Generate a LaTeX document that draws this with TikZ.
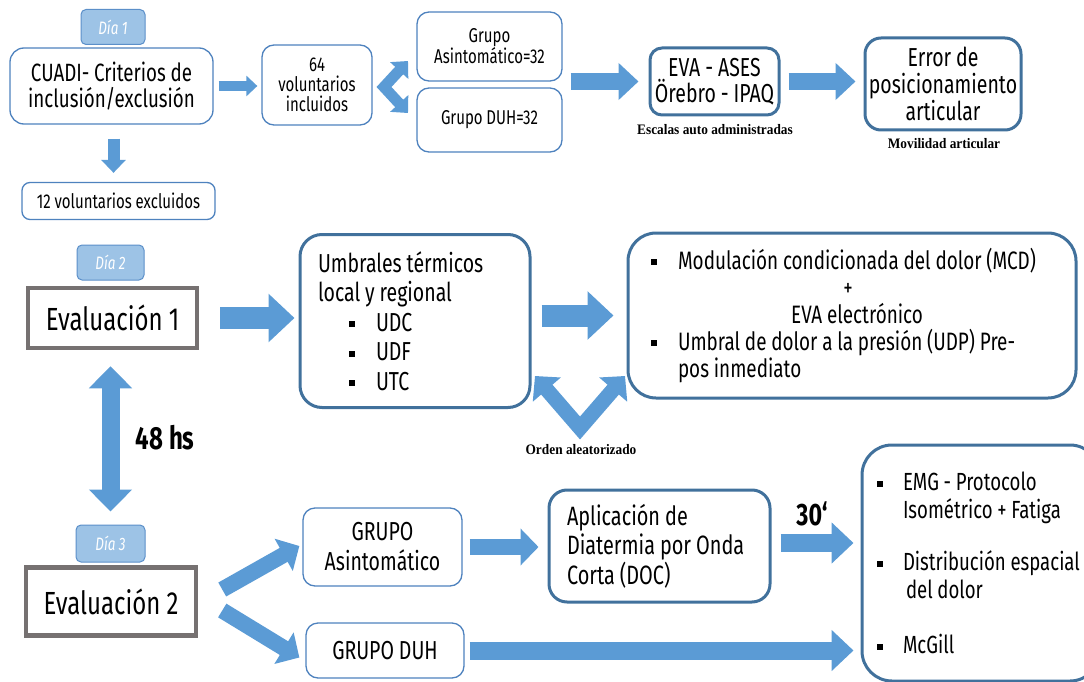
\documentclass[tikz,border=0pt]{standalone}
\usepackage{fontspec}
\setmainfont{Fira Sans}[FakeStretch=0.75]
\newfontfamily\serifb{Liberation Serif}[FakeStretch=0.92]
\usetikzlibrary{arrows.meta,calc}
\definecolor{thinb}{HTML}{4E82BE}
\definecolor{thickb}{HTML}{41719C}
\definecolor{arrblue}{HTML}{5B9BD5}
\definecolor{tabf}{HTML}{9DC3E6}
\definecolor{tabe}{HTML}{5B8FC9}
\definecolor{evgray}{HTML}{767171}
\newcommand{\fs}[2]{\fontsize{#1}{#2}\selectfont\spaceskip=0.19em plus 0.05em\relax}
\newcommand{\sk}{\spaceskip=0.19em plus 0.05em\relax}
\newcommand{\bul}[1]{\makebox[#1][l]{\raisebox{0.16em}{\rule{6pt}{6pt}}}}
\tikzset{
  box/.style={draw=thinb, line width=1.3pt, rounded corners=12pt, align=center, inner sep=0pt, fill=white},
  tbox/.style={draw=thickb, line width=3pt, rounded corners=14pt, align=center, inner sep=0pt, fill=white},
  ebox/.style={draw=evgray, line width=4.5pt, inner sep=0pt, fill=white, font=\fs{32}{36}},
  daytab/.style={draw=tabe, fill=tabf, line width=1pt, rounded corners=5pt, inner sep=0pt, text=white, font=\fs{18}{20}\itshape},
  lab/.style={font=\serifb\bfseries\fontsize{14.5}{16}\selectfont, inner sep=0pt},
  arrS/.style={draw=arrblue, line width=10pt, -{Triangle[length=11pt,width=20pt]}},
  arrD/.style={draw=arrblue, line width=12pt, -{Triangle[length=13pt,width=24pt]}},
  arrM/.style={draw=arrblue, line width=17pt, -{Triangle[length=20pt,width=36pt]}},
  arrL/.style={draw=arrblue, line width=22pt, -{Triangle[length=26pt,width=47pt]}},
  arrG/.style={draw=arrblue, line width=16pt, -{Triangle[length=18pt,width=36pt]}},
  arrH/.style={draw=arrblue, line width=18pt, -{Triangle[length=22pt,width=40pt]}},
}
\begin{document}
\begin{tikzpicture}[x=1pt,y=-1pt]
\useasboundingbox (0,0) rectangle (1084,682);
% ---- Day 1 ----
\node[daytab, minimum width=64pt, minimum height=35pt] (d1) at (113,27) {\sk Día 1};
\node[box, rounded corners=14pt, minimum width=203pt, minimum height=76pt, font=\fs{25}{26}] (cuadi) at (111.5,86) {\sk CUADI- Criterios de\\inclusión/exclusión};
\node[box, minimum width=110pt, minimum height=80pt, font=\fs{20}{20}] (vol) at (317,85) {64\\voluntarios\\incluidos};
\node[box, rounded corners=8pt, minimum width=193pt, minimum height=37pt, font=\fs{20}{22}] (excl) at (118.5,201) {\sk 12 voluntarios excluidos};
\node[box, minimum width=145pt, minimum height=69pt, font=\fs{20}{21}] (gA) at (489.5,46.5) {Grupo\\Asintomático=32};
\node[box, minimum width=145pt, minimum height=64pt, font=\fs{20}{21}] (gD) at (489.5,120) {\sk Grupo DUH=32};
\node[tbox, rounded corners=12pt, minimum width=129pt, minimum height=67pt, font=\fs{26}{26}] (eva) at (714.5,81.5) {\sk EVA - ASES\\Örebro - IPAQ};
\node[tbox, rounded corners=16pt, minimum width=156pt, minimum height=92pt, font=\fs{26}{27}] (err) at (943,84) {\sk Error de\\posicionamiento\\articular};
\node[lab] (esc) at (715,130) {Escalas auto administradas};
\node[lab] (mov) at (944,144) {Movilidad articular};
% ---- Day 2 ----
\node[daytab, minimum width=67pt, minimum height=35pt] (d2) at (110.5,262.5) {\sk Día 2};
\node[ebox, minimum width=169pt, minimum height=60pt] (ev1) at (112.5,318) {\sk Evaluación 1};
\node[tbox, rounded corners=22pt, minimum width=230pt, minimum height=173pt, text width=194pt, align=flush left, font=\fs{26}{29.5}] (umb) at (415,321)
  {\sk Umbrales térmicos\\local y regional\\\hspace*{31pt}\bul{27pt}UDC\\\hspace*{31pt}\bul{27pt}UDF\\\hspace*{31pt}\bul{27pt}UTC};
\node[tbox, rounded corners=28pt, minimum width=448pt, minimum height=165pt, text width=402pt, align=flush left, font=\fs{25.2}{27}] (mcd) at (852,315.5)
  {\sk\bul{27pt}Modulación condicionada del dolor (MCD)\\\hspace*{27pt}\makebox[340pt]{+}\\\hspace*{27pt}\makebox[358pt]{EVA electrónico}\\\bul{27pt}Umbral de dolor a la presión (UDP) Pre-\\\hspace*{27pt}pos inmediato};
\node[lab] (ord) at (581,450) {Orden aleatorizado};
\node[font=\fs{32}{34}\bfseries, inner sep=0pt] (hs) at (165,438) {\sk 48 hs};
% ---- Day 3 ----
\node[daytab, minimum width=69pt, minimum height=37pt] (d3) at (110.5,543.5) {\sk Día 3};
\node[ebox, minimum width=170pt, minimum height=68pt] (ev2) at (111,601.5) {\sk Evaluación 2};
\node[box, minimum width=159pt, minimum height=78pt, font=\fs{26}{30}] (ga3) at (382.5,547) {GRUPO\\Asintomático};
\node[box, minimum width=158pt, minimum height=55pt, font=\fs{26}{30}] (gd3) at (385,650.5) {\sk GRUPO DUH};
\node[tbox, rounded corners=18pt, minimum width=221pt, minimum height=112pt, text width=185pt, align=flush left, font=\fs{26.5}{29.5}] (apl) at (659.5,546)
  {\sk Aplicación de\\Diatermia por Onda\\Corta (DOC)};
\node[font=\fs{31}{33}\bfseries, inner sep=0pt] (t30) at (812,514) {30`};
\node[tbox, rounded corners=30pt, minimum width=238pt, minimum height=236pt, text width=208pt, align=flush left, font=\fs{24.8}{28}] (res) at (981,563)
  {\sk\bul{26pt}EMG - Protocolo\\\hspace*{26pt}Isométrico + Fatiga\\[24pt]\bul{26pt}Distribución espacial\\\hspace*{29pt}del dolor\\[27pt]\bul{26pt}McGill\\[-6pt]};
% ---- connectors ----
\draw[arrS, shorten <=5pt, shorten >=4pt] (cuadi.east) -- (cuadi.east -| vol.west);
\draw[arrD, shorten <=14pt, shorten >=9pt] ([xshift=2pt]cuadi.south) -- ([xshift=2pt]cuadi.south |- excl.north);
\coordinate (c1v) at (384,87);
\coordinate (c1a) at (408,61);
\coordinate (c1b) at (408,113);
\draw[draw=arrblue, line width=11pt, line join=miter, {Triangle[length=13pt,width=24pt]}-{Triangle[length=13pt,width=24pt]}] (c1a) -- (c1v) -- (c1b);
\draw[arrM, shorten <=8pt, shorten >=10pt] (gA.east |- eva.west) -- (eva.west);
\draw[arrM, shorten <=8pt, shorten >=8pt] (eva.east) -- (eva.east -| err.west);
\draw[arrL, shorten <=21pt, shorten >=4pt] (ev1.east) -- (ev1.east -| umb.west);
\draw[arrL, shorten <=10pt, shorten >=13pt] (umb.east |- mcd.west) -- (mcd.west);
\coordinate (c2v) at (580,428);
\coordinate (c2a) at (535,376);
\coordinate (c2b) at (625,376);
\draw[draw=arrblue, line width=15pt, line join=miter, {Triangle[length=18pt,width=36pt]}-{Triangle[length=18pt,width=36pt]}] (c2a) -- (c2v) -- (c2b);
\draw[draw=arrblue, line width=18pt, {Triangle[length=22pt,width=42pt]}-{Triangle[length=22pt,width=42pt]}, shorten <=16pt, shorten >=13pt] (ev1.south -| d3.north) -- (d3.north);
\draw[arrG] ($(ev2.east)+(24,-12)$) -- ($(ga3.west)+(-3,-1)$);
\draw[arrG] ($(ev2.east)+(24,9)$) -- ($(gd3.west)+(-6,7)$);
\draw[arrG, shorten <=7pt, shorten >=9pt] (ga3.east) -- (ga3.east -| apl.west);
\draw[arrH, shorten <=9pt, shorten >=7pt] ([yshift=3pt]apl.east) -- ([yshift=3pt]apl.east -| res.west);
\draw[arrH, shorten <=5pt, shorten >=7pt] (gd3.east) -- (gd3.east -| res.west);
\end{tikzpicture}
\end{document}
